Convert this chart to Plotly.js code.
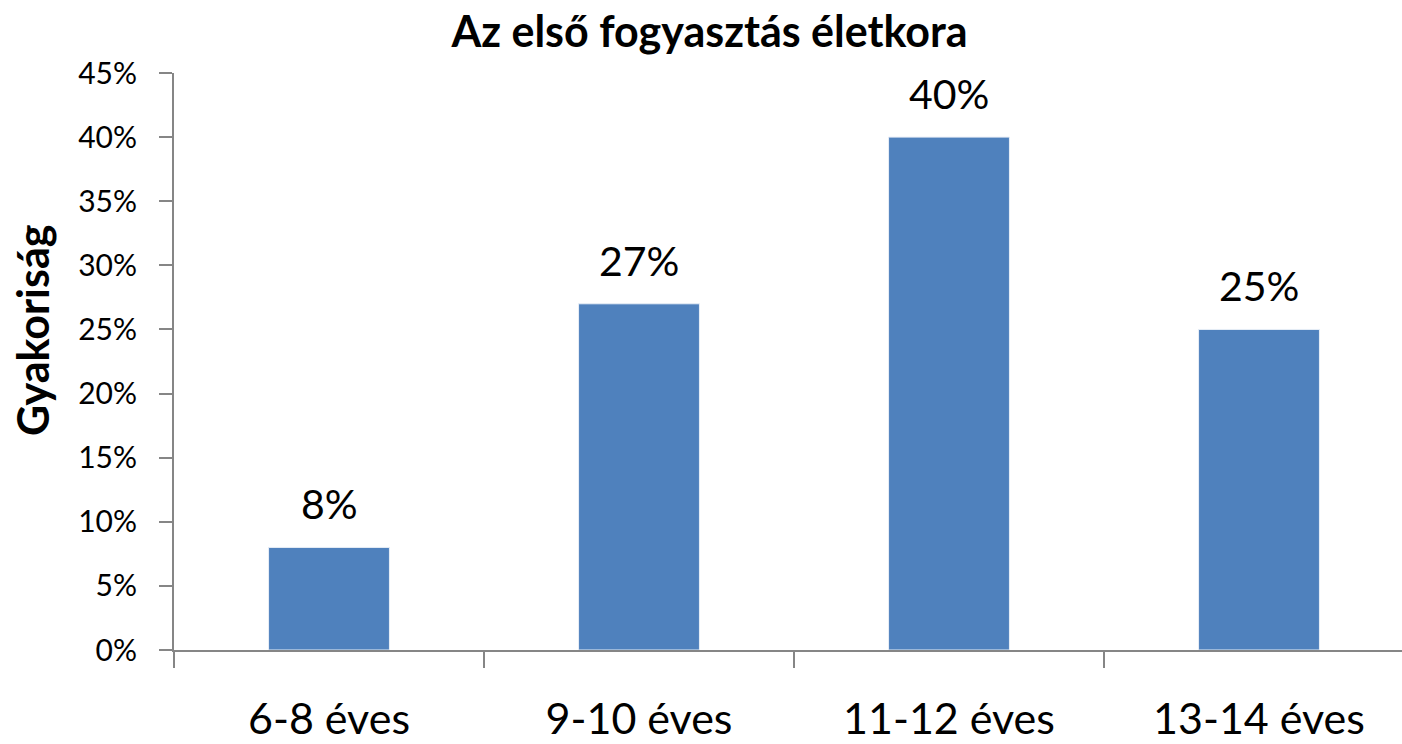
<!DOCTYPE html>
<html>
<head>
<meta charset="utf-8">
<script src="https://cdn.plot.ly/plotly-3.0.1.min.js"></script>
<style>html,body{margin:0;padding:0;background:#fff;}#chart{width:1402px;height:744px;}</style>
</head>
<body>
<div id="chart"></div>
<script>
const categories = ["6-8 éves", "9-10 éves", "11-12 éves", "13-14 éves"];
const values = [8, 27, 40, 25];
const yTickVals = [0, 5, 10, 15, 20, 25, 30, 35, 40, 45];
const yTickText = ["0%", "5%", "10%", "15%", "20%", "25%", "30%", "35%", "40%", "45%"];
const chartTitle = "Az első fogyasztás életkora";
const yTitle = "Gyakoriság";

const FONT = "Lato, 'Open Sans', sans-serif";

const trace = {
  type: "bar",
  x: categories,
  y: values,
  width: 0.39,
  marker: {color: "#4F81BD", line: {color: "#E8EEF7", width: 1}},
  hoverinfo: "skip"
};

const labelAnnotations = categories.map((c, i) => ({
  x: c, y: values[i], xref: "x", yref: "y",
  text: values[i] + "%",
  showarrow: false, yanchor: "bottom", yshift: 17,
  font: {family: FONT, size: 41, color: "#000"}
}));

const layout = {
  width: 1402, height: 744,
  margin: {l: 174, r: 0, t: 73, b: 94, pad: 0},
  paper_bgcolor: "#fff", plot_bgcolor: "#fff",
  showlegend: false,
  title: {text: "<b>" + chartTitle + "</b>", x: 709.5/1402, xanchor: "center", y: 1 - 32/744, yanchor: "middle",
          font: {family: FONT, size: 43, color: "#000", weight: 900}},
  xaxis: {
    type: "category", range: [-0.5, -0.5 + 1228/310],
    showline: true, linecolor: "#868686", linewidth: 2,
    ticks: "outside", tickson: "boundaries", ticklen: 16, tickwidth: 2, tickcolor: "#868686",
    showgrid: false, zeroline: false,
    tickfont: {family: FONT, size: 43, color: "#000"},
    ticklabelstandoff: 30
  },
  yaxis: {
    range: [0, 45], tickvals: yTickVals, ticktext: yTickText,
    showline: true, linecolor: "#868686", linewidth: 2,
    ticks: "outside", ticklen: 13, tickwidth: 2, tickcolor: "#868686",
    showgrid: false, zeroline: false,
    tickfont: {family: FONT, size: 30, color: "#000"},
    ticklabelstandoff: 16
  },
  annotations: labelAnnotations.concat([{
    text: "<b>" + yTitle + "</b>", xref: "paper", yref: "paper",
    x: -142/1228, y: (650 - 331)/577, xanchor: "center", yanchor: "middle",
    textangle: -90, showarrow: false,
    font: {family: FONT, size: 43, color: "#000", weight: 900}
  }])
};

Plotly.newPlot("chart", [trace], layout, {displayModeBar: false, staticPlot: true});
</script>
</body>
</html>
